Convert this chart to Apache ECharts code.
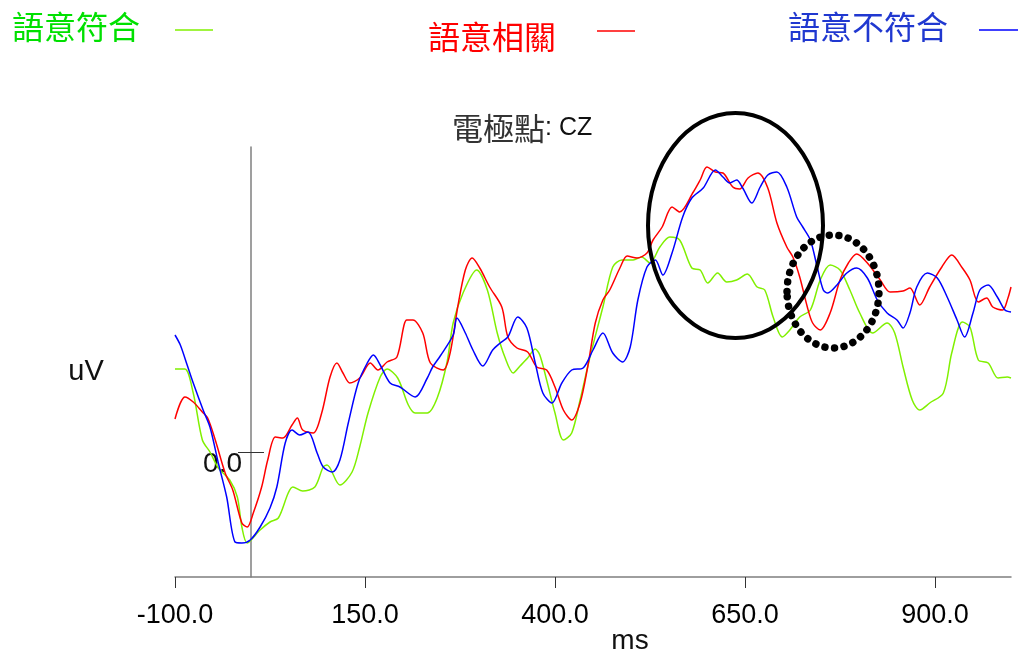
<!DOCTYPE html>
<html><head><meta charset="utf-8">
<script src="https://cdn.jsdelivr.net/npm/echarts@6/dist/echarts.min.js"></script>
<style>html,body{margin:0;padding:0;background:#fff}#c{width:1021px;height:656px}</style>
</head><body><div id="c"></div>
<script>
const seriesNames = ['語意符合', '語意相關', '語意不符合'];
const xTicks = [-100, 150, 400, 650, 900];
const yTicks = [0];
const titleMain = '電極點';
const titleSub = ': CZ';
const xName = 'ms';
const yName = 'uV';

const greenData = [[-100,3.32],[-87,3.32],[-76,2.36],[-64,0.48],[-54,0],[-43,-0.64],[-28,-1.12],[-18,-1.8],[-12,-3.0],[-5,-3.64],[12,-3.12],[25,-2.8],[36,-2.64],[49,-1.64],[55,-1.4],[68,-1.56],[84,-1.4],[95,-0.6],[100,-0.52],[117,-1.32],[133,-0.8],[143,0.2],[154,1.56],[170,3.0],[179,3.32],[193,2.96],[207,1.88],[216,1.56],[232,1.56],[245,2.16],[258,3.6],[266,5.16],[279,6.36],[297,7.28],[311,6.48],[324,4.76],[334,3.8],[345,3.16],[354,3.44],[364,3.76],[374,4.12],[380,3.88],[389,2.88],[400,1.56],[411,0.48],[422,0.76],[433,2.08],[446,3.8],[463,5.8],[476,7.4],[488,7.68],[503,7.68],[514,7.8],[525,7.56],[538,8.2],[551,8.6],[564,8.48],[580,7.36],[591,7.28],[601,6.76],[614,7.16],[626,6.8],[639,6.88],[653,7.12],[666,6.6],[676,6.48],[687,5.4],[699,4.6],[709,4.88],[722,5.4],[736,5.68],[749,6.88],[762,7.48],[775,7.28],[788,6.48],[801,5.56],[818,4.76],[837,5.16],[847,4.76],[858,3.4],[870,2.08],[880,1.68],[893,1.96],[911,2.36],[922,3.96],[936,5.2],[946,5.0],[957,3.68],[970,3.56],[983,2.96],[995,3.0],[1000,2.96]];

const redData = [[-100,1.32],[-87,2.2],[-76,2.0],[-64,1.6],[-57,1.36],[-47,0.48],[-34,-0.84],[-24,-1.52],[-12,-2.84],[-5,-3.0],[3,-2.44],[14,-1.4],[22,-0.32],[32,0.6],[42,0.56],[54,1.08],[61,1.36],[68,0.88],[82,0.76],[93,1.56],[104,3.0],[113,3.56],[121,3.16],[130,2.76],[143,2.96],[157,3.56],[167,3.28],[179,3.6],[192,3.8],[205,5.28],[213,5.28],[226,4.76],[236,3.56],[253,3.28],[262,3.96],[272,5.8],[282,7.28],[291,7.76],[301,7.36],[314,6.6],[330,5.8],[338,4.6],[350,4.16],[364,4.0],[376,3.4],[389,3.28],[400,2.6],[411,1.68],[422,1.28],[433,1.96],[443,3.4],[453,5.16],[463,6.08],[472,6.48],[486,7.4],[495,7.84],[508,7.76],[521,7.96],[529,8.48],[541,9.0],[554,9.8],[564,9.6],[582,10.4],[591,10.88],[600,11.4],[611,11.2],[621,11.16],[634,10.6],[643,10.52],[654,10.96],[667,11.16],[680,10.56],[692,9.16],[705,8.2],[713,7.8],[722,7.0],[732,5.8],[739,5.16],[749,4.88],[762,5.56],[775,6.88],[786,7.56],[797,7.92],[811,7.56],[828,6.88],[841,6.4],[858,6.44],[867,6.56],[880,5.88],[893,6.6],[909,7.4],[922,7.88],[936,7.36],[946,6.88],[957,6.0],[968,6.16],[976,5.8],[989,5.68],[996,6.16],[1000,6.6]];

const blueData = [[-100,4.68],[-93,4.28],[-84,3.48],[-76,2.76],[-63,1.68],[-54,1.0],[-43,-0.44],[-32,-1.8],[-21,-3.6],[-12,-3.64],[-1,-3.52],[12,-3.0],[25,-2.24],[34,-1.4],[45,0.36],[54,0.88],[64,0.68],[75,0.8],[87,-0.04],[95,-0.6],[107,-0.8],[117,-0.32],[128,1.16],[141,2.76],[153,3.56],[161,3.88],[170,3.48],[183,2.76],[196,2.6],[216,2.2],[232,2.96],[239,3.4],[249,3.84],[266,4.68],[271,5.36],[282,4.76],[292,4.08],[305,3.44],[318,4.08],[328,4.36],[338,4.6],[351,5.4],[363,4.96],[374,3.56],[384,2.36],[396,1.96],[409,2.76],[422,3.28],[437,3.36],[450,4.08],[463,4.76],[476,3.96],[489,3.6],[499,4.2],[509,6.08],[521,7.4],[532,7.68],[542,7.08],[554,7.96],[568,9.4],[580,10.16],[595,10.56],[611,11.28],[621,11.0],[630,10.76],[639,10.88],[647,10.56],[659,9.96],[670,10.6],[680,11.08],[692,11.2],[705,10.6],[718,9.4],[726,9.0],[736,8.48],[745,7.4],[753,6.48],[759,6.36],[771,6.68],[784,7.16],[797,7.36],[811,6.96],[824,6.08],[837,5.56],[850,5.28],[858,4.96],[867,5.56],[876,6.6],[890,7.16],[903,6.96],[916,6.2],[929,5.28],[939,4.6],[950,5.56],[959,6.48],[970,6.68],[982,6.2],[992,5.68],[1000,5.6]];

const lineColors = ['#80f000', '#ff0000', '#0000ff'];
const textColors = ['#00e000', '#ff0000', '#2038d0'];

const chart = echarts.init(document.getElementById('c'), null, {renderer: 'canvas'});
const latin = 'Liberation Sans, Arial, sans-serif';
const cjk = '"Noto Sans CJK TC", "Noto Sans CJK SC", sans-serif';
const gridLeft = 175;

const mkSeries = (name, data, color, z) => ({
  name, type: 'line', data, showSymbol: false, smooth: 0.3, z,
  lineStyle: {color, width: 1.5}, itemStyle: {color}, animation: false
});

chart.setOption({
  animation: false,
  backgroundColor: '#ffffff',
  title: {
    text: '{a|' + titleMain + '}{b|' + titleSub + '}',
    left: 452, top: 111, padding: 0,
    textStyle: {fontWeight: 'normal', rich: {
      a: {fontFamily: cjk, fontSize: 31, fontWeight: 'normal', color: '#333', lineHeight: 34},
      b: {fontFamily: latin, fontSize: 25, fontWeight: 'normal', color: '#111', lineHeight: 34}
    }}
  },
  grid: {left: gridLeft, right: 10, top: 147, bottom: 79},
  xAxis: {
    type: 'value', min: -100, max: 1000,
    axisLine: {onZero: false, lineStyle: {color: '#7f7f7f', width: 1.5}},
    axisTick: {customValues: xTicks, length: 11, lineStyle: {color: '#333', width: 1}},
    axisLabel: {customValues: xTicks, formatter: v => v.toFixed(1), fontFamily: latin, fontSize: 27, color: '#000', margin: 25},
    splitLine: {show: false}
  },
  yAxis: [{
    type: 'value', min: -5, max: 12.2, position: 'left',
    axisLine: {onZero: false, lineStyle: {color: '#7f7f7f', width: 1.5}},
    axisTick: {customValues: yTicks, length: 13, lineStyle: {color: '#333', width: 1}},
    axisLabel: {customValues: yTicks, formatter: v => v.toFixed(1), fontFamily: latin, fontSize: 28, color: '#111', margin: 9, verticalAlign: 'top', lineHeight: 24},
    splitLine: {show: false}
  }, {
    type: 'value', min: -5, max: 12.2, position: 'left',
    axisLine: {show: false, onZero: false},
    axisTick: {inside: true, customValues: yTicks, length: 13, lineStyle: {color: '#333', width: 1}},
    axisLabel: {show: false},
    splitLine: {show: false}
  }],
  series: [
    mkSeries(seriesNames[0], greenData, lineColors[0], 2),
    mkSeries(seriesNames[1], redData, lineColors[1], 3),
    mkSeries(seriesNames[2], blueData, lineColors[2], 4)
  ],
  graphic: [
    {type: 'text', left: 12, top: 11, style: {text: seriesNames[0], fill: textColors[0], font: '32px ' + cjk}},
    {type: 'line', shape: {x1: 175, y1: 30, x2: 213, y2: 30}, style: {stroke: lineColors[0], lineWidth: 1.5}},
    {type: 'text', left: 428, top: 21, style: {text: seriesNames[1], fill: textColors[1], font: '32px ' + cjk}},
    {type: 'line', shape: {x1: 597, y1: 31, x2: 635, y2: 31}, style: {stroke: lineColors[1], lineWidth: 1.5}},
    {type: 'text', left: 788, top: 11, style: {text: seriesNames[2], fill: textColors[2], font: '32px ' + cjk}},
    {type: 'line', shape: {x1: 979, y1: 30, x2: 1018, y2: 30}, style: {stroke: lineColors[2], lineWidth: 1.5}},
    {type: 'text', x: 86, y: 372, style: {text: yName, fill: '#111', font: '29px ' + latin, textAlign: 'center', textVerticalAlign: 'middle'}},
    {type: 'text', x: 630, y: 641, style: {text: xName, fill: '#111', font: '28px ' + latin, textAlign: 'center', textVerticalAlign: 'middle'}},
    {type: 'ellipse', shape: {cx: 735.5, cy: 225.5, rx: 87.5, ry: 112.5}, style: {fill: 'none', stroke: '#000', lineWidth: 4}, z: 10},
    {type: 'ellipse', shape: {cx: 833, cy: 291.5, rx: 46, ry: 56.5}, style: {fill: 'none', stroke: '#000', lineWidth: 7.5, lineDash: [0.01, 9.6], lineCap: 'round'}, z: 10}
  ]
});

// place the y axis at x = 0 ms using the x axis scale
const x0 = chart.convertToPixel({xAxisIndex: 0}, 0);
const yOffset = -(x0 - gridLeft);
chart.setOption({yAxis: [{offset: yOffset}, {offset: yOffset}]});
</script>
</body></html>
